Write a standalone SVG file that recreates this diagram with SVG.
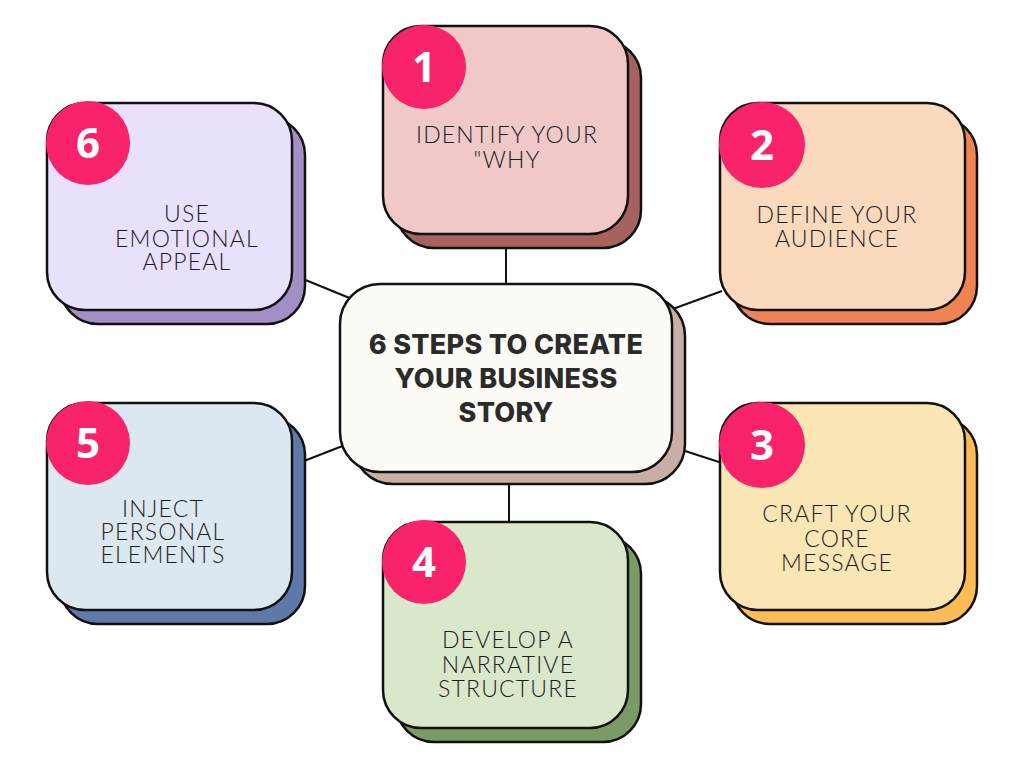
<svg xmlns="http://www.w3.org/2000/svg" width="1024" height="768" viewBox="0 0 1024 768">
<style>
.box{stroke:#111;stroke-width:2.5}
.num{fill:#f8236a}
.numt{font-family:"Open Sans","Liberation Sans",sans-serif;font-weight:700;font-size:42px;fill:#fff;text-anchor:middle}
.lbl{font-family:"Lato","Liberation Sans",sans-serif;font-weight:300;font-size:23px;fill:#1e1e1e;text-anchor:middle;letter-spacing:1.2px}
.title{font-family:"Inter","Liberation Sans",sans-serif;font-weight:800;font-size:27px;fill:#2b2b2b;text-anchor:middle;letter-spacing:0.3px}
.conn{stroke:#111;stroke-width:2;fill:none}
</style>
<rect width="1024" height="768" fill="#fff"/>
<g id="connectors">
<line class="conn" x1="506" y1="248" x2="506" y2="286"/>
<line class="conn" x1="509" y1="482" x2="509" y2="523"/>
<line class="conn" x1="303" y1="279" x2="352" y2="299"/>
<line class="conn" x1="670" y1="310" x2="722" y2="291"/>
<line class="conn" x1="304" y1="461" x2="345" y2="445"/>
<line class="conn" x1="682" y1="450" x2="722" y2="463"/>
</g>
<g id="center">
<rect class="box" x="353" y="296" width="332" height="188" rx="40" fill="#c9aea5"/>
<rect class="box" x="340" y="284" width="332" height="188" rx="40" fill="#fcfbf6"/>
<text class="title" x="506" y="354">6 STEPS TO CREATE</text>
<text class="title" x="506" y="388">YOUR BUSINESS</text>
<text class="title" x="506" y="422">STORY</text>
</g>
<g id="step1">
<rect class="box" x="396" y="40" width="245" height="208" rx="38" fill="#a5625f"/>
<rect class="box" x="383" y="26" width="245" height="208" rx="38" fill="#f0c8c8"/>
<circle class="num" cx="424" cy="67" r="42"/>
<text class="numt" x="424" y="82">1</text>
<text class="lbl" x="507" y="143">IDENTIFY YOUR</text>
<text class="lbl" x="507" y="168">"WHY</text>
</g>
<g id="step2">
<rect class="box" x="732" y="117" width="245" height="207" rx="38" fill="#ef8354"/>
<rect class="box" x="720" y="103" width="245" height="207" rx="38" fill="#fad9bd"/>
<circle class="num" cx="762" cy="145" r="43"/>
<text class="numt" x="762" y="160">2</text>
<text class="lbl" x="837" y="223">DEFINE YOUR</text>
<text class="lbl" x="837" y="247">AUDIENCE</text>
</g>
<g id="step3">
<rect class="box" x="732" y="417" width="245" height="207" rx="38" fill="#ffbb55"/>
<rect class="box" x="720" y="403" width="245" height="207" rx="38" fill="#fae5b5"/>
<circle class="num" cx="762" cy="445" r="43"/>
<text class="numt" x="762" y="460">3</text>
<text class="lbl" x="837" y="522">CRAFT YOUR</text>
<text class="lbl" x="837" y="547">CORE</text>
<text class="lbl" x="837" y="571">MESSAGE</text>
</g>
<g id="step4">
<rect class="box" x="396" y="536" width="245" height="206" rx="38" fill="#7a9a66"/>
<rect class="box" x="383" y="522" width="245" height="206" rx="38" fill="#d9e7cb"/>
<circle class="num" cx="424" cy="562" r="42"/>
<text class="numt" x="424" y="577">4</text>
<text class="lbl" x="508" y="648">DEVELOP A</text>
<text class="lbl" x="508" y="673">NARRATIVE</text>
<text class="lbl" x="508" y="697">STRUCTURE</text>
</g>
<g id="step5">
<rect class="box" x="60" y="417" width="245" height="207" rx="38" fill="#5f7aaa"/>
<rect class="box" x="47" y="403" width="245" height="207" rx="38" fill="#dce8f0"/>
<circle class="num" cx="88" cy="443" r="42"/>
<text class="numt" x="88" y="458">5</text>
<text class="lbl" x="163" y="517">INJECT</text>
<text class="lbl" x="163" y="540">PERSONAL</text>
<text class="lbl" x="163" y="563">ELEMENTS</text>
</g>
<g id="step6">
<rect class="box" x="60" y="117" width="245" height="207" rx="38" fill="#a28fc6"/>
<rect class="box" x="47" y="103" width="245" height="207" rx="38" fill="#e8e0fd"/>
<circle class="num" cx="88" cy="143" r="42"/>
<text class="numt" x="88" y="158">6</text>
<text class="lbl" x="187" y="222">USE</text>
<text class="lbl" x="187" y="247">EMOTIONAL</text>
<text class="lbl" x="187" y="270">APPEAL</text>
</g>
</svg>
